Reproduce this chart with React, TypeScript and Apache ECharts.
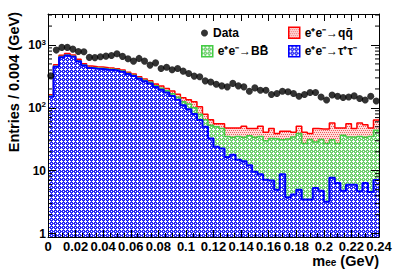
import React, { useEffect, useRef } from 'react';
import * as echarts from 'echarts';

const FONT = '"Liberation Sans", Arial, Helvetica, sans-serif';

// Binning: 60 bins of 0.004 GeV from 0 to 0.24 GeV
const BIN_WIDTH = 0.004;
const X_MIN = 0;
const X_MAX = 0.24;
const X_INTERVAL = 0.02;
const Y_MIN = 0.883;
const Y_MAX = 3113;
const yMinorTickValues = [2, 3, 4, 5, 6, 7, 8, 9, 20, 30, 40, 50, 60, 70, 80, 90, 200, 300, 400, 500, 600, 700, 800, 900, 2000, 3000];

const seriesNames = ['Data', 'e\u207Ae\u207B\u2192qq\u0304', 'e\u207Ae\u207B\u2192BB\u0304', 'e\u207Ae\u207B\u2192\u03C4\u207A\u03C4\u207B'];

const dataCounts = [
  323, 830, 916, 916, 860, 790, 780, 635, 630, 650, 665, 680, 724, 660, 605,
  554, 612, 554, 479, 520, 424, 442, 403, 424, 384, 353, 320, 312, 269, 258,
  238, 224, 216, 245, 224, 216, 184, 208, 191, 191, 163, 169, 184, 180, 169,
  153, 163, 176, 176, 149, 133, 160, 153, 146, 149, 155, 141, 133, 153, 129,
];

const tauTau = [
  150, 450, 640, 680, 650, 550, 470, 430, 420, 415, 405, 400, 390, 375,
  345, 320, 290, 265, 245, 215, 195, 175, 155, 135, 110, 95, 80, 64, 50,
  32.6, 24, 22.5, 16.6, 18, 15, 14.2, 12.2, 9.6, 8.8, 7.2, 7, 5, 8.8, 3.8,
  4.2, 5, 3.5, 3.5, 5.3, 4.8, 3.2, 7.7, 6.4, 4.8, 6, 6, 4.7, 6.4, 4.6, 7.1,
];

const bbbar = [
  4, 10, 14, 15, 14, 12, 11, 10, 10, 10, 10, 10, 10, 10,
  9, 9, 9, 9, 10, 10, 11, 12, 13, 13, 15, 20, 20, 15, 15,
  20.4, 26, 24.5, 18.4, 16, 20, 19.8, 23.8, 24.4, 26.2, 22.8, 25.6, 27, 22.2, 28.2,
  30.3, 34, 23.5, 27.9, 23.4, 26.6, 23.8, 23.3, 20.6, 31.9, 28.5, 28, 30.3, 27.6, 30.4, 36.9,
];

const qqbar = [
  7, 23, 32, 35, 32, 29, 24, 22, 22, 21, 20, 20, 19, 17,
  15, 16, 15, 14, 14, 15, 16, 16, 17, 17, 20, 20, 25, 25, 14,
  12, 6, 9, 13, 14, 13, 17, 11, 13, 16, 11, 14.4, 7, 11.5, 10.5,
  6.5, 12, 14, 7.6, 18.3, 14.6, 19, 26.6, 21, 11.3, 21.5, 13, 22.6, 20, 13, 20,
];

function makePattern(bg: string, fg: string, pts: number[][]) {
  const size = 4;
  const c = document.createElement('canvas');
  c.width = size;
  c.height = size;
  const ctx = c.getContext('2d')!;
  ctx.fillStyle = bg;
  ctx.fillRect(0, 0, size, size);
  ctx.fillStyle = fg;
  pts.forEach(([x, y]) => ctx.fillRect(x, y, 1, 1));
  return { image: c, repeat: 'repeat', imageWidth: size, imageHeight: size } as any;
}

function stepData(values: number[]) {
  const pts = values.map((v, i) => [X_MIN + i * BIN_WIDTH, v]);
  pts.push([X_MAX, values[values.length - 1]]);
  return pts;
}

export default function App() {
  const ref = useRef<HTMLDivElement>(null);
  useEffect(() => {
    if (!ref.current) return;
    const chart = echarts.init(ref.current, undefined, { renderer: 'svg' });

    const latticePts = [[1, 0], [0, 1], [1, 1], [2, 1], [1, 2], [3, 3]];
    const bluePat = makePattern('#2828f4', '#ffffff', latticePts);
    const greenPat = makePattern('#6ccf6c', '#ffffff', latticePts);
    const redPat = makePattern('#ffdcdc', '#f05a5a', [[0, 0], [2, 0], [1, 2], [3, 2]]);

    const cumTB = tauTau.map((v, i) => v + bbbar[i]);
    const cumAll = cumTB.map((v, i) => v + qqbar[i]);
    const dataPts = dataCounts.map((v, i) => [X_MIN + (i + 0.5) * BIN_WIDTH, v]);

    const xFmt = (v: number) => String(parseFloat(v.toFixed(3)));
    const yFmt = (v: number) => {
      const l = Math.log10(v);
      const e = Math.round(l);
      if (Math.abs(l - e) > 1e-6) return '';
      if (e === 0) return '{b|1}';
      if (e === 1) return '{b|10}';
      return '{b|10}{s|' + e + '}';
    };

    const axisLine = { show: true, onZero: false, lineStyle: { color: '#000', width: 1 } };
    const tickStyle = { color: '#000', width: 1 };
    const textStyle = { fontFamily: FONT, fontSize: 12, fontWeight: 'bold', color: '#000' };

    const xAxisBase = {
      type: 'value', min: X_MIN, max: X_MAX, interval: X_INTERVAL, z: 10,
      axisLine,
      axisTick: { show: true, inside: true, length: 7, lineStyle: tickStyle },
      minorTick: { show: true, splitNumber: 4, length: 4, lineStyle: tickStyle },
      splitLine: { show: false }, minorSplitLine: { show: false },
    };
    const yAxisBase = {
      type: 'log', logBase: 10, min: Y_MIN, max: Y_MAX, z: 10,
      axisLine,
      axisTick: { show: true, inside: true, length: 8, lineStyle: tickStyle },
      minorTick: { show: false },
      splitLine: { show: false }, minorSplitLine: { show: false },
    };

    const option: any = {
      animation: false,
      backgroundColor: '#ffffff',
      grid: { left: 48, right: 20, top: 14, bottom: 33, containLabel: false, outerBoundsMode: 'none' },
      xAxis: [
        {
          ...xAxisBase, position: 'bottom',
          axisLabel: { show: true, margin: 3, color: '#000', fontFamily: FONT, fontSize: 13, lineHeight: 12, fontWeight: 'bold', formatter: xFmt, showMinLabel: true, showMaxLabel: true },
        },
        { ...xAxisBase, position: 'top', axisLabel: { show: false } },
      ],
      yAxis: [
        {
          ...yAxisBase, position: 'left',
          axisLabel: {
            show: true, margin: 2, formatter: yFmt, showMinLabel: true, showMaxLabel: true,
            rich: {
              b: { fontFamily: FONT, fontSize: 12, fontWeight: 'bold', color: '#000', lineHeight: 14 },
              s: { fontFamily: FONT, fontSize: 8, fontWeight: 'bold', color: '#000', lineHeight: 6, verticalAlign: 'top' },
            },
          },
        },
        { ...yAxisBase, position: 'right', axisLabel: { show: false } },
      ],
      legend: [
        { left: 201, top: 27, padding: 0, itemWidth: 7, itemHeight: 7, selectedMode: false, textStyle,
          data: [{ name: seriesNames[0], icon: 'circle', itemStyle: { color: '#000', borderWidth: 0 } }] },
        { left: 288, top: 26.5, padding: 0, itemWidth: 11, itemHeight: 11, selectedMode: false, textStyle,
          data: [{ name: seriesNames[1], icon: 'rect', itemStyle: { color: redPat, borderColor: '#ff0000', borderWidth: 1.5 } }] },
        { left: 201, top: 45, padding: 0, itemWidth: 11, itemHeight: 11, selectedMode: false, textStyle,
          data: [{ name: seriesNames[2], icon: 'rect', itemStyle: { color: greenPat, borderColor: '#44cc44', borderWidth: 1.5 } }] },
        { left: 288, top: 45, padding: 0, itemWidth: 11, itemHeight: 11, selectedMode: false, textStyle,
          data: [{ name: seriesNames[3], icon: 'rect', itemStyle: { color: bluePat, borderColor: '#0000ff', borderWidth: 1.5 } }] },
      ],
      graphic: [
        {
          type: 'text', x: 14, y: 12, rotation: Math.PI / 2, z: 20,
          style: { text: 'Entries / 0.004 (GeV)', fontFamily: FONT, fontSize: 14.5, fontWeight: 'bold', fill: '#000', align: 'right', verticalAlign: 'middle' },
        },
        {
          type: 'text', x: 379, y: 261, z: 20,
          style: {
            text: '{m|m}{s|ee}{m| (GeV)}', align: 'right', verticalAlign: 'middle',
            rich: {
              m: { fontFamily: FONT, fontSize: 14.5, fontWeight: 'bold', fill: '#000', lineHeight: 12 },
              s: { fontFamily: FONT, fontSize: 10, fontWeight: 'bold', fill: '#000', lineHeight: 6, verticalAlign: 'bottom' },
            },
          },
        },
      ],
      series: [
        {
          type: 'line', name: seriesNames[1], data: stepData(cumAll), step: 'end',
          symbol: 'none', showSymbol: false, z: 2,
          lineStyle: { color: '#ff0000', width: 1.5 }, itemStyle: { color: '#ff0000' },
          areaStyle: { color: redPat, opacity: 1 },
        },
        {
          type: 'line', name: seriesNames[2], data: stepData(cumTB), step: 'end',
          symbol: 'none', showSymbol: false, z: 3,
          lineStyle: { color: '#44cc44', width: 1.5 }, itemStyle: { color: '#44cc44' },
          areaStyle: { color: greenPat, opacity: 1 },
        },
        {
          type: 'line', name: seriesNames[3], data: stepData(tauTau), step: 'end',
          symbol: 'none', showSymbol: false, z: 4,
          lineStyle: { color: '#0000ff', width: 2 }, itemStyle: { color: '#0000ff' },
          areaStyle: { color: bluePat, opacity: 1 },
        },
        {
          type: 'custom', name: 'yMinorTicks', xAxisIndex: 0, yAxisIndex: 0, z: 11, silent: true, clip: false,
          data: yMinorTickValues.map((v) => [X_MIN, v]),
          encode: { x: 0, y: 1 },
          renderItem: (params: any, api: any) => {
            const p = api.coord([X_MIN, api.value(1)]);
            const cs = params.coordSys;
            const l = cs.x;
            const r = cs.x + cs.width;
            return {
              type: 'group',
              children: [
                { type: 'line', shape: { x1: l, y1: p[1], x2: l + 4, y2: p[1] }, style: { stroke: '#000', lineWidth: 1 } },
                { type: 'line', shape: { x1: r - 4, y1: p[1], x2: r, y2: p[1] }, style: { stroke: '#000', lineWidth: 1 } },
              ],
            };
          },
        },
        {
          type: 'scatter', name: seriesNames[0], data: dataPts, symbol: 'circle', symbolSize: 7, z: 12,
          itemStyle: { color: '#000' },
        },
      ],
    };

    chart.setOption(option);
    return () => chart.dispose();
  }, []);

  return <div ref={ref} style={{ position: 'fixed', left: 0, top: 0, width: 399, height: 270, background: '#fff' }} />;
}
